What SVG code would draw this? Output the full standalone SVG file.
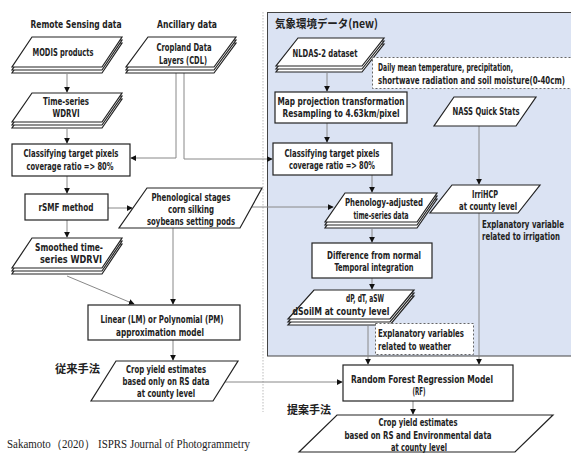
<svg xmlns="http://www.w3.org/2000/svg" width="571" height="454" viewBox="0 0 571 454">
<defs>
<marker id="ah" viewBox="0 0 8 8" refX="7" refY="4" markerWidth="6" markerHeight="6" orient="auto" markerUnits="userSpaceOnUse">
<path d="M0,0 L8,4 L0,8 z" fill="#111"/>
</marker>
<style>
.t{font-family:"DejaVu Sans Condensed","DejaVu Sans","Liberation Sans",sans-serif;font-weight:bold;font-size:10px;fill:#222;text-anchor:middle}
.tl{text-anchor:start}
.h{font-size:11px}
.jp{font-family:"Noto Sans CJK JP","Noto Sans CJK SC",sans-serif;font-weight:bold;font-size:11.5px;fill:#222}
.cite{font-family:"Liberation Serif",serif;font-size:11.5px;fill:#222}
.s{fill:#fff;stroke:#222;stroke-width:1.2}
.ca{fill:none;stroke:#888;stroke-width:1;marker-end:url(#ah)}
.d{fill:#fff;stroke:#666;stroke-width:1;stroke-dasharray:2,2}
</style>
</defs>
<rect width="571" height="454" fill="#fff"/>
<g id="region">
<line x1="263" y1="12" x2="263" y2="412" stroke="#bbb" stroke-width="1" stroke-dasharray="1.5,1.5"/>
<rect x="267.5" y="12.5" width="310" height="343.5" fill="#dbe3f3" stroke="#444" stroke-width="1"/>
<text class="jp" x="275" y="28" textLength="103" lengthAdjust="spacingAndGlyphs">気象環境データ(new)</text>
</g>
<g id="headers">
<text class="t h" x="76" y="28" textLength="91" lengthAdjust="spacingAndGlyphs">Remote Sensing data</text>
<text class="t h" x="187" y="28" textLength="60" lengthAdjust="spacingAndGlyphs">Ancillary data</text>
</g>
<g id="connectors">
<line class="ca" x1="67" y1="74" x2="67" y2="92"/>
<line class="ca" x1="67" y1="129" x2="67" y2="143"/>
<polyline class="ca" points="176,73 176,158 131,158"/>
<polyline class="ca" points="184,73 184,159 272,159"/>
<line class="ca" x1="67" y1="176" x2="67" y2="193"/>
<line class="ca" x1="108" y1="208" x2="132" y2="208"/>
<line class="ca" x1="67" y1="220" x2="67" y2="237"/>
<line class="ca" x1="67" y1="276" x2="134" y2="304"/>
<line class="ca" x1="173" y1="228" x2="173" y2="304"/>
<line class="ca" x1="173" y1="340" x2="173" y2="360"/>
<line class="ca" x1="225" y1="382" x2="342" y2="382"/>
<line class="ca" x1="327" y1="73" x2="327" y2="91"/>
<line class="ca" x1="327" y1="123" x2="327" y2="142"/>
<line class="ca" x1="250" y1="207" x2="333" y2="207"/>
<line class="ca" x1="372" y1="175" x2="372" y2="192"/>
<line class="ca" x1="372" y1="229" x2="372" y2="242"/>
<line class="ca" x1="372" y1="278" x2="372" y2="289"/>
<line class="ca" x1="479" y1="126" x2="479" y2="184"/>
<line class="ca" x1="368" y1="326" x2="368" y2="364"/>
<line class="ca" x1="479" y1="213" x2="479" y2="364"/>
<line class="ca" x1="413" y1="401" x2="413" y2="414"/>
</g>
<g id="modis">
<polygon class="s" points="32,43 122,43 102,73 12,73"/>
<polygon class="s" points="32,40 122,40 102,70 12,70"/>
<polygon class="s" points="32,37 122,37 102,67 12,67"/>
<text class="t" x="63" y="56" textLength="61" lengthAdjust="spacingAndGlyphs">MODIS products</text>
</g>
<g id="cdl">
<polygon class="s" points="148,43 236,43 214,73 126,73"/>
<polygon class="s" points="148,40 236,40 214,70 126,70"/>
<polygon class="s" points="148,37 236,37 214,67 126,67"/>
<text class="t" x="184" y="51" textLength="55" lengthAdjust="spacingAndGlyphs">Cropland Data</text>
<text class="t" x="183" y="64" textLength="48" lengthAdjust="spacingAndGlyphs">Layers (CDL)</text>
</g>
<g id="timeseries">
<polygon class="s" points="32,99 122,99 102,128 12,128"/>
<polygon class="s" points="32,96 122,96 102,125 12,125"/>
<polygon class="s" points="32,93 122,93 102,122 12,122"/>
<text class="t" x="66" y="105" textLength="46" lengthAdjust="spacingAndGlyphs">Time-series</text>
<text class="t" x="66" y="117" textLength="27" lengthAdjust="spacingAndGlyphs">WDRVI</text>
</g>
<g id="classify1">
<rect class="s" x="12" y="144" width="118" height="32"/>
<text class="t" x="71" y="157" textLength="95" lengthAdjust="spacingAndGlyphs">Classifying target pixels</text>
<text class="t" x="70" y="170" textLength="87" lengthAdjust="spacingAndGlyphs">coverage ratio =&gt; 80%</text>
</g>
<g id="rsmf">
<rect class="s" x="25" y="194" width="83" height="26"/>
<text class="t" x="66" y="211" textLength="55" lengthAdjust="spacingAndGlyphs">rSMF method</text>
</g>
<g id="pheno">
<polygon class="s" points="147,188 262,188 240,228 119,228"/>
<text class="t" x="191" y="201" textLength="79" lengthAdjust="spacingAndGlyphs">Phenological stages</text>
<text class="t" x="191" y="213" textLength="46" lengthAdjust="spacingAndGlyphs">corn silking</text>
<text class="t" x="191" y="225" textLength="88" lengthAdjust="spacingAndGlyphs">soybeans setting pods</text>
</g>
<g id="smoothed">
<polygon class="s" points="32,244 122,244 102,274 12,274"/>
<polygon class="s" points="32,241 122,241 102,271 12,271"/>
<polygon class="s" points="32,238 122,238 102,268 12,268"/>
<text class="t" x="69" y="251" textLength="68" lengthAdjust="spacingAndGlyphs">Smoothed time-</text>
<text class="t" x="71" y="263" textLength="62" lengthAdjust="spacingAndGlyphs">series WDRVI</text>
</g>
<g id="linear">
<rect class="s" x="88" y="305" width="152" height="35"/>
<text class="t" x="162" y="323" textLength="123" lengthAdjust="spacingAndGlyphs">Linear (LM) or Polynomial (PM)</text>
<text class="t" x="160" y="336" textLength="88" lengthAdjust="spacingAndGlyphs">approximation model</text>
</g>
<g id="yield1">
<polygon class="s" points="116,361 238,361 213,401 91,401"/>
<text class="t" x="166" y="373" textLength="80" lengthAdjust="spacingAndGlyphs">Crop yield estimates</text>
<text class="t" x="166" y="385" textLength="87" lengthAdjust="spacingAndGlyphs">based only on RS data</text>
<text class="t" x="166" y="397" textLength="58" lengthAdjust="spacingAndGlyphs">at county level</text>
</g>
<text class="jp" x="55" y="373" textLength="45" lengthAdjust="spacingAndGlyphs">従来手法</text>
<g id="nldas">
<polygon class="s" points="298,44 384,44 362,72 276,72"/>
<polygon class="s" points="298,41 384,41 362,69 276,69"/>
<polygon class="s" points="298,38 384,38 362,66 276,66"/>
<text class="t" x="325" y="57" textLength="65" lengthAdjust="spacingAndGlyphs">NLDAS-2 dataset</text>
</g>
<g id="daily">
<rect class="d" x="372.5" y="57.5" width="205" height="31"/>
<text class="t tl" x="378" y="71" textLength="135" lengthAdjust="spacingAndGlyphs">Daily mean temperature, precipitation,</text>
<text class="t tl" x="378" y="84" textLength="187" lengthAdjust="spacingAndGlyphs">shortwave radiation and soil moisture(0-40cm)</text>
</g>
<g id="mapproj">
<rect class="s" x="275" y="92" width="132" height="31"/>
<text class="t" x="341" y="105" textLength="127" lengthAdjust="spacingAndGlyphs">Map projection transformation</text>
<text class="t" x="341" y="117" textLength="117" lengthAdjust="spacingAndGlyphs">Resampling to 4.63km/pixel</text>
</g>
<g id="nass">
<polygon class="s" points="454,97 536,97 516,126 434,126"/>
<text class="t" x="486" y="115" textLength="67" lengthAdjust="spacingAndGlyphs">NASS Quick Stats</text>
</g>
<g id="classify2">
<rect class="s" x="273" y="143" width="119" height="32"/>
<text class="t" x="332" y="157" textLength="95" lengthAdjust="spacingAndGlyphs">Classifying target pixels</text>
<text class="t" x="332" y="169" textLength="86" lengthAdjust="spacingAndGlyphs">coverage ratio =&gt; 80%</text>
</g>
<g id="phenoadj">
<polygon class="s" points="345,199 437,199 417,228 325,228"/>
<polygon class="s" points="345,196 437,196 417,225 325,225"/>
<polygon class="s" points="345,193 437,193 417,222 325,222"/>
<text class="t" x="384" y="206" textLength="78" lengthAdjust="spacingAndGlyphs">Phenology-adjusted</text>
<text class="t" x="381" y="219" textLength="55" lengthAdjust="spacingAndGlyphs">time-series data</text>
</g>
<g id="irrihcp">
<polygon class="s" points="452,185 540,185 518,213 430,213"/>
<text class="t" x="485" y="198" textLength="26" lengthAdjust="spacingAndGlyphs">IrriHCP</text>
<text class="t" x="488" y="210" textLength="58" lengthAdjust="spacingAndGlyphs">at county level</text>
</g>
<text class="t tl" x="482" y="228" textLength="82" lengthAdjust="spacingAndGlyphs">Explanatory variable</text>
<text class="t tl" x="482" y="240" textLength="78" lengthAdjust="spacingAndGlyphs">related to irrigation</text>
<g id="difference">
<rect class="s" x="312" y="243" width="120" height="35"/>
<text class="t" x="374" y="259" textLength="94" lengthAdjust="spacingAndGlyphs">Difference from normal</text>
<text class="t" x="374" y="271" textLength="79" lengthAdjust="spacingAndGlyphs">Temporal integration</text>
</g>
<g id="dp">
<polygon class="s" points="314,296 414,296 390,325 288,325"/>
<polygon class="s" points="314,293 414,293 390,322 288,322"/>
<polygon class="s" points="314,290 414,290 390,319 288,319"/>
<text class="t" x="365" y="302" textLength="38" lengthAdjust="spacingAndGlyphs">dP, dT, aSW</text>
<text class="t" x="341" y="315" textLength="97" lengthAdjust="spacingAndGlyphs">dSoilM at county level</text>
</g>
<g id="weather">
<rect class="d" x="375.5" y="323.5" width="98" height="31"/>
<text class="t tl" x="378" y="337" textLength="86" lengthAdjust="spacingAndGlyphs">Explanatory variables</text>
<text class="t tl" x="378" y="350" textLength="73" lengthAdjust="spacingAndGlyphs">related to weather</text>
</g>
<g id="rf">
<rect class="s" x="343" y="365" width="170" height="36"/>
<text class="t" x="422" y="383" textLength="142" lengthAdjust="spacingAndGlyphs">Random Forest Regression Model</text>
<text class="t" x="419" y="395" textLength="13" lengthAdjust="spacingAndGlyphs">(RF)</text>
</g>
<text class="jp" x="287" y="414" textLength="44" lengthAdjust="spacingAndGlyphs">提案手法</text>
<g id="yield2">
<polygon class="s" points="337,415 553,415 515,452 299,452"/>
<text class="t" x="418" y="426" textLength="79" lengthAdjust="spacingAndGlyphs">Crop yield estimates</text>
<text class="t" x="418" y="439" textLength="147" lengthAdjust="spacingAndGlyphs">based on RS and Environmental data</text>
<text class="t" x="419" y="451" textLength="56" lengthAdjust="spacingAndGlyphs">at county level</text>
</g>
<text class="cite" x="7" y="448" textLength="243" lengthAdjust="spacingAndGlyphs">Sakamoto（2020）  ISPRS Journal of Photogrammetry</text>
</svg>
